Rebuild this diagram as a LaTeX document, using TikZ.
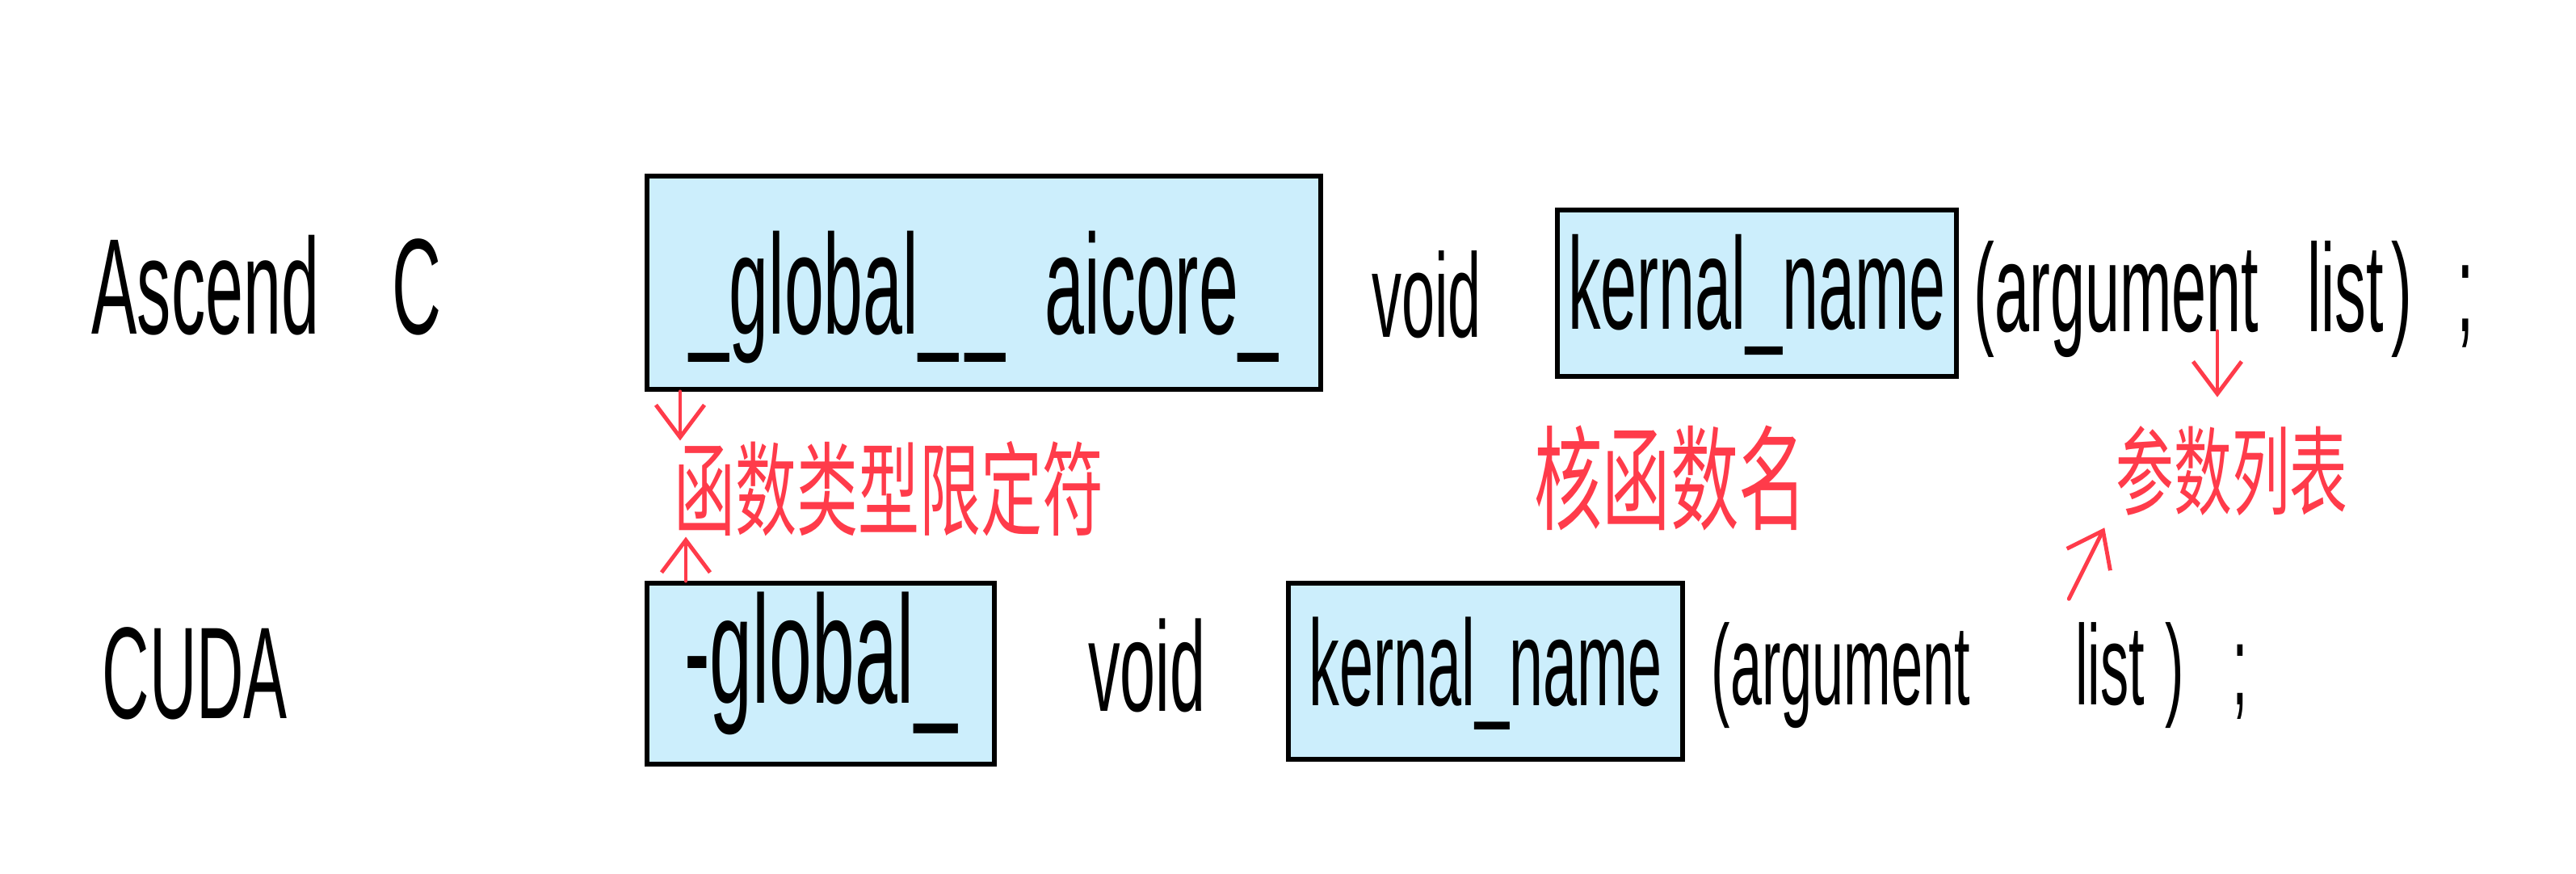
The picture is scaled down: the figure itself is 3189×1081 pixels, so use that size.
\documentclass[tikz,border=0pt]{standalone}
\usepackage{fontspec}
\newfontfamily\handfont[FakeStretch=0.5]{Liberation Sans}
\newfontfamily\cjkfont[FakeStretch=0.6]{Noto Sans CJK SC}
\usetikzlibrary{arrows.meta}
\definecolor{boxblue}{HTML}{CCEEFC}
\definecolor{pen}{HTML}{FF3B4A}

\begin{document}
\begin{tikzpicture}[
x=0.01cm, y=-0.01cm,
word/.style={
font=\handfont\fontsize{#1}{#1}\selectfont,
inner sep=0
},
box/.style={
draw=black,
line width=1.6pt,
fill=boxblue,
inner sep=0
},
note/.style={
font=\cjkfont\fontsize{#1}{#1}\selectfont,
text=pen,
inner sep=0
},
arrow/.style={
-{Straight Barb[length=4mm,width=6mm]},
draw=pen,
line width=1.4pt,
line cap=round
}
]

\useasboundingbox (0,0) rectangle (3189,1081);
\fill[white] (0,0) rectangle (3189,1081);

% Ascend C row
\node[word=48, anchor=base west] (ascend) at (113,413) {Ascend\hspace{0.9cm}C};
\node[box, word=50, minimum width=8.34cm, text height=1.95cm, text depth=0.69cm, anchor=base] (qualA) at (1218,413) {\_global\_\hspace{0.1cm}\_\ \ aicore\_};
\node[word=42, anchor=base] (voidA) at (1766,417) {void};
\node[box, word=46, minimum width=4.94cm, text height=1.47cm, text depth=0.59cm, anchor=base] (nameA) at (2175,407) {kernal\_name};
\node[word=44, anchor=base west] (argsA) at (2443,410) {(argument\hspace{0.6cm}list\hspace{0.1cm})\hspace{0.55cm};};

% CUDA row
\node[word=46, anchor=base west] (cuda) at (126,889) {CUDA};
\node[box, word=54, minimum width=4.30cm, text height=1.48cm, text depth=0.76cm, anchor=base] (qualB) at (1016,870) {-global\_};
\node[word=45, anchor=base] (voidB) at (1420,880) {void};
\node[box, word=43, minimum width=4.88cm, text height=1.51cm, text depth=0.67cm, anchor=base] (nameB) at (1839,873) {kernal\_name};
\node[word=40, anchor=base west] (argsB) at (2118,872) {(argument\hspace{1.3cm}list\hspace{0.25cm})\hspace{0.6cm};};

% notes
\node[note=36, anchor=west] (qualNote) at (834,605) {函数类型限定符};
\node[note=40] (nameNote) at (2068,592) {核函数名};
\node[note=34] (argsNote) at (2763,583) {参数列表};

\draw[arrow] ([xshift=0.08cm]qualNote.north west |- qualA.south) -- ([xshift=0.08cm]qualNote.north west);
\draw[arrow] ([xshift=0.15cm]qualNote.south west |- qualB.north) -- ([xshift=0.15cm]qualNote.south west);
\draw[arrow] ([xshift=-0.18cm]argsNote.north |- argsA.base) -- ([xshift=-0.18cm,yshift=0.35cm]argsNote.north);
\draw[arrow] ([xshift=-0.575cm,yshift=-1.02cm]argsNote.south west) -- ([xshift=-0.135cm,yshift=-0.14cm]argsNote.south west);

\end{tikzpicture}
\end{document}
